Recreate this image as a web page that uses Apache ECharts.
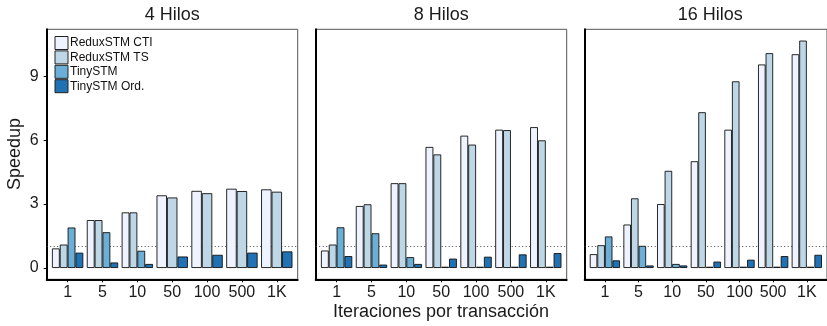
<!DOCTYPE html>
<html>
<head>
<meta charset="utf-8">
<script src="https://cdn.jsdelivr.net/npm/echarts@6/dist/echarts.min.js"></script>
<style>
  html, body { margin: 0; padding: 0; background: #fff; }
  #chart { width: 827px; height: 326px; }
</style>
</head>
<body>
<div id="chart"></div>
<script>
// Iterations per transaction (x categories)
const categories = ['1', '5', '10', '50', '100', '500', '1K'];
const panelTitles = ['4 Hilos', '8 Hilos', '16 Hilos'];
const seriesNames = ['ReduxSTM CTI', 'ReduxSTM TS', 'TinySTM', 'TinySTM Ord.'];
const yTicks = [0, 3, 6, 9];
const baseline = 1;

// Speedup, 4 threads (null = no measurement)
const cti4  = [0.92, 2.25, 2.61, 3.41, 3.62, 3.72, 3.69];
const ts4   = [1.10, 2.25, 2.61, 3.31, 3.51, 3.61, 3.58];
const tiny4 = [1.90, 1.68, 0.81, null, null, null, null];
const ord4  = [0.72, 0.26, 0.19, 0.54, 0.62, 0.72, 0.78];
// Speedup, 8 threads
const cti8  = [0.82, 2.91, 3.98, 5.68, 6.21, 6.49, 6.61];
const ts8   = [1.10, 2.99, 3.98, 5.33, 5.79, 6.47, 5.99];
const tiny8 = [1.91, 1.63, 0.51, 0.06, 0.06, 0.06, 0.06];
const ord8  = [0.56, 0.16, 0.19, 0.44, 0.53, 0.64, 0.70];
// Speedup, 16 threads
const cti16  = [0.65, 2.04, 3.00, 5.01, 6.49, 9.55, 10.03];
const ts16   = [1.07, 3.27, 4.56, 7.31, 8.76, 10.08, 10.67];
const tiny16 = [1.48, 1.04, 0.19, 0.06, 0.06, 0.06, 0.06];
const ord16  = [0.36, 0.12, 0.12, 0.30, 0.39, 0.56, 0.62];

const panelData = [
  [cti4, ts4, tiny4, ord4],
  [cti8, ts8, tiny8, ord8],
  [cti16, ts16, tiny16, ord16]
];

const palette = ['#eff3ff', '#bdd7e7', '#6baed6', '#2171b5'];
const FONT = '"Liberation Sans", Arial, sans-serif';
const TEXT = '#1a1a1a';

const PANEL_W = 251, PANEL_H = 250, PANEL_TOP = 29.3, PANEL_GAP = 18, FIRST_LEFT = 46.7;
const X_MIN = 0.4, X_MAX = 7.6, Y_MIN = -0.53, Y_MAX = 11.2;
const catPos = categories.map((c, i) => i + 1);

const grid = [], xAxis = [], yAxis = [], series = [], graphic = [];

panelData.forEach((values, p) => {
  const left = FIRST_LEFT + p * (PANEL_W + PANEL_GAP);
  grid.push({
    left: left, top: PANEL_TOP, width: PANEL_W, height: PANEL_H,
    show: true, borderColor: '#555', borderWidth: 1, backgroundColor: 'transparent'
  });
  yAxis.push({
    gridIndex: p, type: 'value', min: Y_MIN, max: Y_MAX,
    splitLine: { show: false },
    axisLine: { show: true, onZero: false, lineStyle: { color: '#000', width: 2 } },
    axisTick: { show: p === 0, customValues: yTicks, length: 3, lineStyle: { color: '#000', width: 1 } },
    axisLabel: { show: p === 0, customValues: yTicks, fontSize: 16, color: TEXT, fontFamily: FONT, margin: 8 }
  });

  // Groups are dodged by the set of series that have a value there
  const layouts = {};
  categories.forEach((c, g) => {
    const present = values.map((v, s) => (v[g] == null ? -1 : s)).filter(s => s >= 0);
    const key = present.join(',');
    (layouts[key] = layouts[key] || { present: present, groups: [] }).groups.push(g);
  });

  Object.keys(layouts).forEach((key, li) => {
    const lay = layouts[key];
    const axisIndex = xAxis.length;
    xAxis.push({
      gridIndex: p, type: 'value', min: X_MIN, max: X_MAX, show: li === 0,
      splitLine: { show: false },
      axisLine: { show: true, onZero: false, lineStyle: { color: '#000', width: 2 } },
      axisTick: { show: true, customValues: catPos, length: 3, lineStyle: { color: '#000', width: 1 } },
      axisLabel: {
        customValues: catPos, fontSize: 16, color: TEXT, fontFamily: FONT, margin: 5,
        formatter: v => categories[Math.round(v) - 1]
      }
    });
    lay.present.forEach((s, k) => {
      const ser = {
        type: 'bar', name: seriesNames[s], xAxisIndex: axisIndex, yAxisIndex: p,
        barGap: 0, barCategoryGap: '10%',
        itemStyle: { color: palette[s], borderColor: '#111', borderWidth: 0.9 },
        data: lay.groups.map(g => [g + 1, values[s][g]]),
        silent: true, animation: false
      };
      if (li === 0 && k === 0) {
        ser.markLine = {
          silent: true, symbol: 'none', z: 1, animation: false,
          label: { show: false },
          lineStyle: { type: [1, 2.5], color: '#444', width: 1 },
          data: [{ yAxis: baseline }]
        };
      }
      series.push(ser);
    });
  });

  graphic.push({
    type: 'text', x: left + PANEL_W / 2, y: 15,
    style: { text: panelTitles[p], fontSize: 18, fontFamily: FONT, fill: TEXT, textAlign: 'center', textVerticalAlign: 'middle' }
  });
});

graphic.push({
  type: 'text', x: 15.5, y: 154, rotation: Math.PI / 2,
  style: { text: 'Speedup', fontSize: 18, fontFamily: FONT, fill: TEXT, textAlign: 'center', textVerticalAlign: 'middle' }
});
graphic.push({
  type: 'text', x: 441, y: 312,
  style: { text: 'Iteraciones por transacción', fontSize: 18, fontFamily: FONT, fill: TEXT, textAlign: 'center', textVerticalAlign: 'middle' }
});

const chart = echarts.init(document.getElementById('chart'), null, { renderer: 'canvas' });
chart.setOption({
  backgroundColor: '#fff',
  animation: false,
  textStyle: { fontFamily: FONT },
  grid: grid,
  xAxis: xAxis,
  yAxis: yAxis,
  series: series,
  graphic: graphic,
  legend: {
    data: seriesNames,
    orient: 'vertical', left: 54.5, top: 36, padding: 0,
    itemWidth: 13, itemHeight: 13, itemGap: 0.4,
    icon: 'rect',
    itemStyle: { borderColor: '#222', borderWidth: 1 },
    textStyle: { fontSize: 12, color: '#111', fontFamily: FONT, lineHeight: 13, padding: [0, 0, 0, -3] },
    selectedMode: false
  }
});
</script>
</body>
</html>
